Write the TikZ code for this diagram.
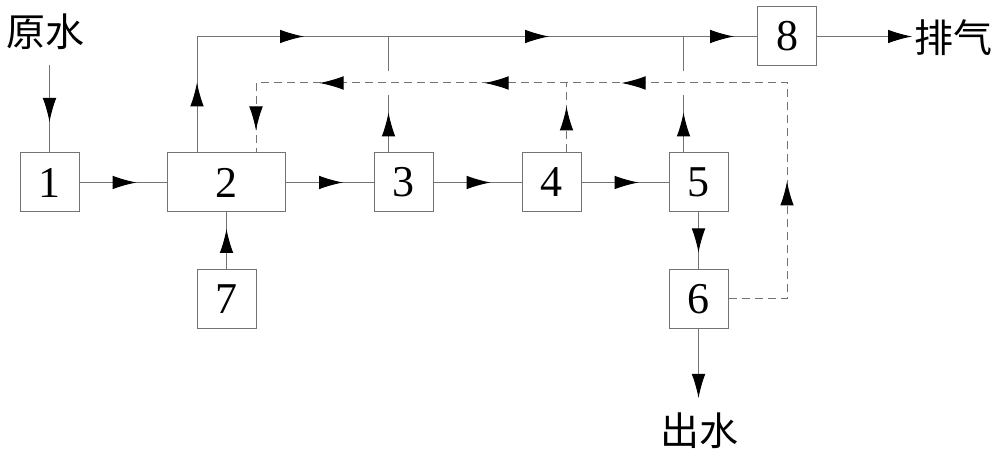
\documentclass[tikz,border=0pt]{standalone}
\usepackage{fontspec}
\setmainfont{Liberation Serif}
\newfontfamily\cjk{Noto Sans CJK SC}
\usetikzlibrary{arrows.meta,decorations.markings}

\begin{document}
\begin{tikzpicture}[x=0.5pt, y=-0.5pt,
    box/.style={draw=black!55, line width=0.5pt, minimum width=29.5pt, minimum height=29.5pt,
        inner sep=0pt, font=\fontsize{22}{22}\selectfont},
    tag/.style={inner sep=0pt, font=\cjk\fontsize{19.5}{20}\selectfont},
    line/.style={draw=black!55, line width=0.5pt},
    back/.style={line, dash pattern=on 4pt off 2.5pt},
    head/.tip={Latex[length=12pt,width=6.8pt,color=black]},
    tip/.style={-head},
    arrowat/.style={postaction={decorate, decoration={markings, mark=at position #1 with {\arrow{head}}}}}]

\useasboundingbox (0,0) rectangle (1000,458);

% units
\node[box] (b1) at (49.5,182.5) {1};
\node[box, minimum width=59pt] (b2) at (226.5,182.5) {2};
\node[box] (b3) at (403.5,182.5) {3};
\node[box] (b4) at (551.5,182.5) {4};
\node[box] (b5) at (698.5,182.5) {5};
\node[box] (b6) at (698.5,299) {6};
\node[box] (b7) at (226.5,299) {7};
\node[box] (b8) at (787,36.5) {8};

% texts
\node[tag] (raw) at (45,32) {原水};
\node[tag] (gas) at (953,38) {排气};
\node[tag] (out) at (699,431) {出水};

\coordinate (in1) at (49.5,65);
\coordinate (ret) at (787,83);
\coordinate (top3) at (388.5,36.5);
\coordinate (top5) at (683.5,36.5);
\coordinate (ret3) at (388.5,83);
\coordinate (ret4) at (566.5,83);
\coordinate (ret5) at (683.5,83);
\coordinate (gasend) at (912,36.5);
\coordinate (outend) at (698.5,398);

% main flow
\draw[line, arrowat=28.5pt] (in1) -- (b1);
\draw[line, arrowat=28.5pt] (b1) -- (b2);
\draw[line, arrowat=28.5pt] (b2) -- (b3);
\draw[line, arrowat=28.5pt] (b3) -- (b4);
\draw[line, arrowat=28.5pt] (b4) -- (b5);
\draw[line, arrowat=20pt] (b7) -- (b2);
\draw[line, arrowat=20pt] (b5) -- (b6);
\draw[line, tip] (b6) -- (outend);

% gas line
\draw[line, arrowat=35pt, arrowat=111.5pt, arrowat=234pt, arrowat=326.5pt]
    ([xshift=-14.75pt]b2.north) |- (b8);
\draw[line, arrowat=20pt] ([xshift=-7.5pt]b3.north) -- ([yshift=-6pt]ret3);
\draw[line] ([yshift=6pt]ret3) -- (top3);
\draw[line, arrowat=20pt] ([xshift=-7.5pt]b5.north) -- ([yshift=-6pt]ret5);
\draw[line] ([yshift=6pt]ret5) -- (top5);
\draw[line, tip] (b8) -- (gasend);

% return line
\draw[back, arrowat=23pt] ([xshift=7.5pt]b4.north) -- (ret4);
\draw[back, arrowat=88pt, arrowat=220pt, arrowat=288.5pt, arrowat=371pt, arrowat=426.5pt]
    (b6) -| (ret) -| ([xshift=14.75pt]b2.north);
\end{tikzpicture}
\end{document}
